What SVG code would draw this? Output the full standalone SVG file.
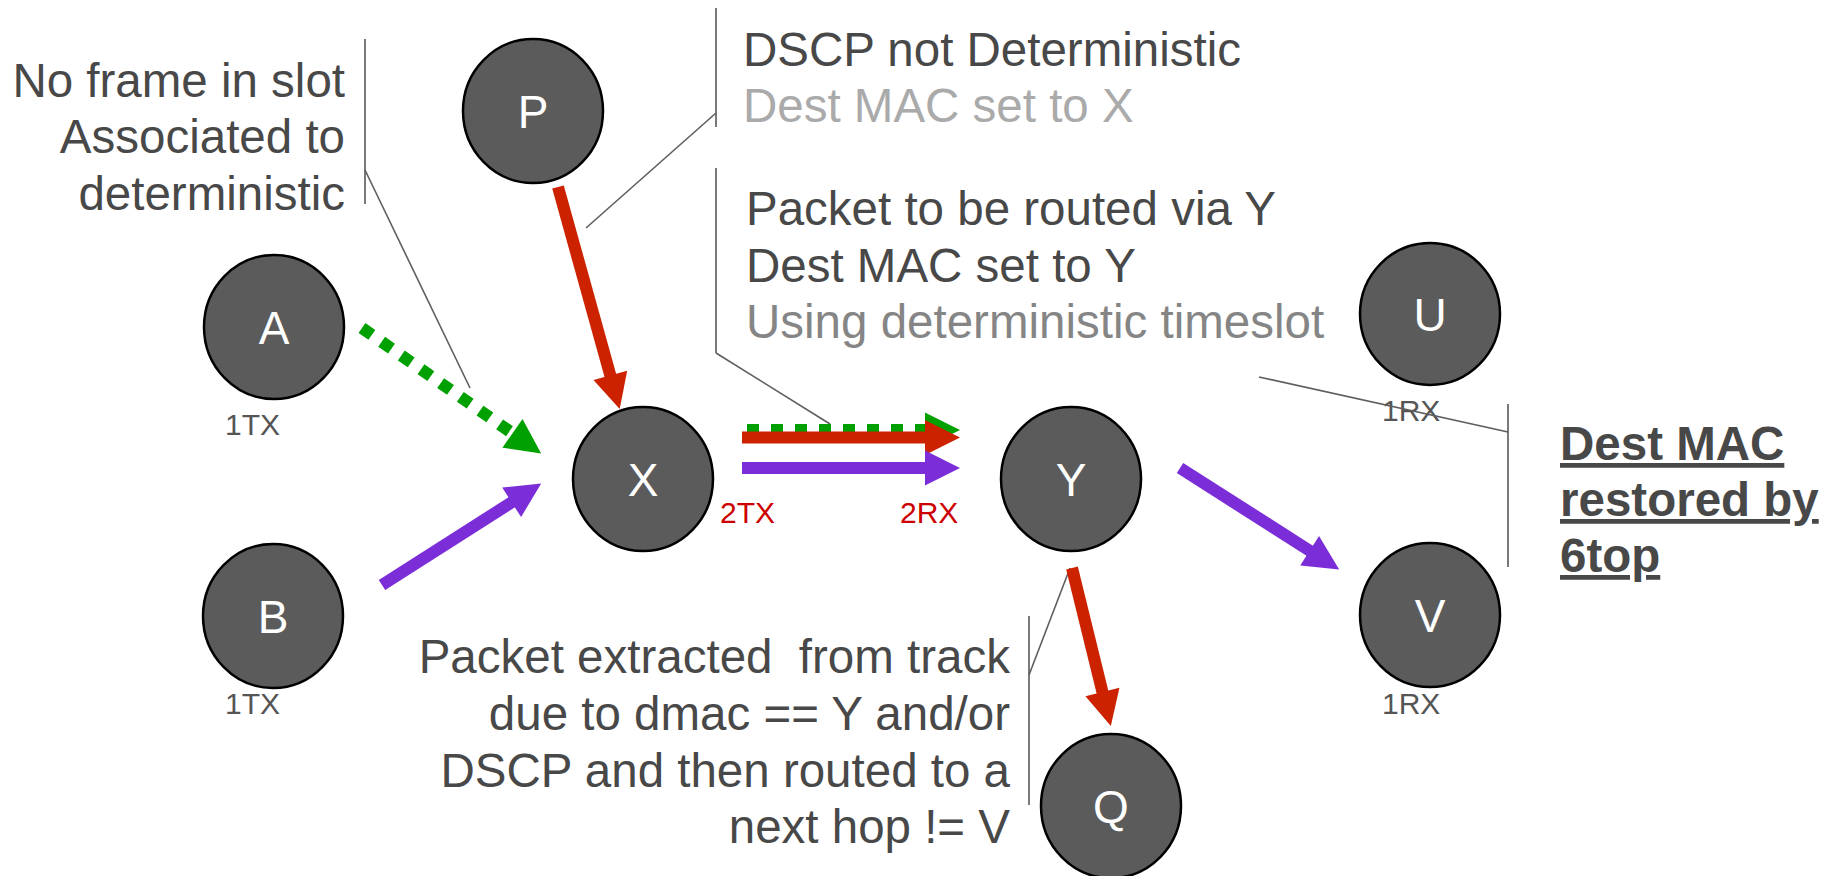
<svg xmlns="http://www.w3.org/2000/svg" width="1837" height="876" viewBox="0 0 1837 876">
  <style>
    .node ellipse { fill: #5b5b5b; stroke: #000; stroke-width: 2.5; }
    .node .lbl { fill: #fff; font-family: "Liberation Sans", Arial, sans-serif; font-size: 46px; text-anchor: middle; }
    .slot { fill: #555; font-family: "Liberation Sans", Arial, sans-serif; font-size: 30px; }
    .slot.warm { fill: #cc0000; }
    .note { fill: #484848; font-family: "Liberation Sans", Arial, sans-serif; font-size: 47.5px; }
    .note .light { fill: #aaaaaa; }
    .note .mid { fill: #858585; }
    .note.r { text-anchor: end; }
    .note.bold { font-weight: bold; text-decoration: underline; }
    .leader { stroke: #5e5e5e; stroke-width: 1.6; fill: none; }
    .bracket { stroke: #7a7a7a; stroke-width: 2; fill: none; }
    .arrow { fill: none; stroke-width: 12; stroke-linecap: butt; }
    .c-red { stroke: #cc2200; }
    .c-purple { stroke: #7b2dd8; }
    .c-green { stroke: #00a000; stroke-dasharray: 12 12; }
  </style>
  <defs>
    <marker id="head-red" markerUnits="userSpaceOnUse" markerWidth="36" markerHeight="36" refX="1" refY="17.5" orient="auto" overflow="visible">
      <path d="M0,0 L35,17.5 L0,35 z" fill="#cc2200"/>
    </marker>
    <marker id="head-purple" markerUnits="userSpaceOnUse" markerWidth="36" markerHeight="36" refX="1" refY="17.5" orient="auto" overflow="visible">
      <path d="M0,0 L35,17.5 L0,35 z" fill="#7b2dd8"/>
    </marker>
    <marker id="head-green" markerUnits="userSpaceOnUse" markerWidth="36" markerHeight="36" refX="1" refY="17.5" orient="auto" overflow="visible">
      <path d="M0,0 L35,17.5 L0,35 z" fill="#00a000"/>
    </marker>
  </defs>

  <!-- annotation brackets and leader lines -->
  <g id="annotations">
    <line class="bracket" x1="365" y1="39" x2="365" y2="204"/>
    <line class="leader" x1="365" y1="170" x2="470" y2="388"/>
    <line class="bracket" x1="716" y1="8" x2="716" y2="127"/>
    <line class="leader" x1="716" y1="113" x2="586" y2="228"/>
    <line class="bracket" x1="716" y1="168" x2="716" y2="353"/>
    <line class="leader" x1="716" y1="353" x2="830" y2="424"/>
    <line class="bracket" x1="1508" y1="404" x2="1508" y2="567"/>
    <line class="bracket" x1="1029" y1="616" x2="1029" y2="805"/>
    <line class="leader" x1="1070" y1="568" x2="1029" y2="675"/>
  </g>

  <!-- annotation texts -->
  <text class="note r" x="345" y="97">No frame in slot</text>
  <text class="note r" x="345" y="153">Associated to</text>
  <text class="note r" x="345" y="210">deterministic</text>

  <text class="note" x="743" y="66">DSCP not Deterministic</text>
  <text class="note" x="743" y="122"><tspan class="light">Dest MAC set to X</tspan></text>

  <text class="note" x="746" y="225">Packet to be routed via Y</text>
  <text class="note" x="746" y="282">Dest MAC set to Y</text>
  <text class="note" x="746" y="338"><tspan class="mid">Using deterministic timeslot</tspan></text>

  <text class="note r" x="1010" y="673" xml:space="preserve">Packet extracted  from track</text>
  <text class="note r" x="1010" y="730">due to dmac == Y and/or</text>
  <text class="note r" x="1010" y="787">DSCP and then routed to a</text>
  <text class="note r" x="1010" y="843">next hop != V</text>

  <text class="note bold" x="1560" y="460">Dest MAC</text>
  <text class="note bold" x="1560" y="516">restored by</text>
  <text class="note bold" x="1560" y="572">6top</text>

  <!-- connectors -->
  <g id="connectors">
    <path class="arrow c-green" d="M362,328 L513.3,433.9" marker-end="url(#head-green)"/>
    <path class="arrow c-purple" d="M382,585 L512.5,501.8" marker-end="url(#head-purple)"/>
    <path class="arrow c-red" d="M558,187 L610.6,376.3" marker-end="url(#head-red)"/>
    <path class="arrow c-green" d="M747,430 L926,430" marker-end="url(#head-green)"/>
    <path class="arrow c-red" d="M742,437.5 L926,437.5" marker-end="url(#head-red)"/>
    <path class="arrow c-purple" d="M742,468 L926,468" marker-end="url(#head-purple)"/>
    <path class="arrow c-purple" d="M1180,468 L1310.5,551.2" marker-end="url(#head-purple)"/>
    <path class="arrow c-red" d="M1072,568 L1102.7,693" marker-end="url(#head-red)"/>
  </g>

  <!-- nodes -->
  <g id="node-P" class="node"><ellipse cx="533" cy="111" rx="70" ry="72"/><text class="lbl" x="533" y="128">P</text></g>
  <g id="node-A" class="node"><ellipse cx="274" cy="327" rx="70" ry="72"/><text class="lbl" x="274" y="344">A</text></g>
  <g id="node-B" class="node"><ellipse cx="273" cy="616" rx="70" ry="72"/><text class="lbl" x="273" y="633">B</text></g>
  <g id="node-X" class="node"><ellipse cx="643" cy="479" rx="70" ry="72"/><text class="lbl" x="643" y="496">X</text></g>
  <g id="node-Y" class="node"><ellipse cx="1071" cy="479" rx="70" ry="72"/><text class="lbl" x="1071" y="496">Y</text></g>
  <g id="node-U" class="node"><ellipse cx="1430" cy="314" rx="70" ry="71"/><text class="lbl" x="1430" y="331">U</text></g>
  <g id="node-V" class="node"><ellipse cx="1430" cy="615" rx="70" ry="72"/><text class="lbl" x="1430" y="632">V</text></g>
  <g id="node-Q" class="node"><ellipse cx="1111" cy="806" rx="70" ry="72"/><text class="lbl" x="1111" y="823">Q</text></g>

  <!-- cell labels -->
  <text class="slot" x="225" y="435">1TX</text>
  <text class="slot" x="225" y="714">1TX</text>
  <text class="slot" x="1382" y="421">1RX</text>
  <text class="slot" x="1382" y="714">1RX</text>
  <text class="slot warm" x="720" y="523">2TX</text>
  <text class="slot warm" x="900" y="523">2RX</text>

  <!-- leader crossing the U cell label -->
  <line class="leader" x1="1259" y1="377" x2="1508" y2="432"/>
</svg>
